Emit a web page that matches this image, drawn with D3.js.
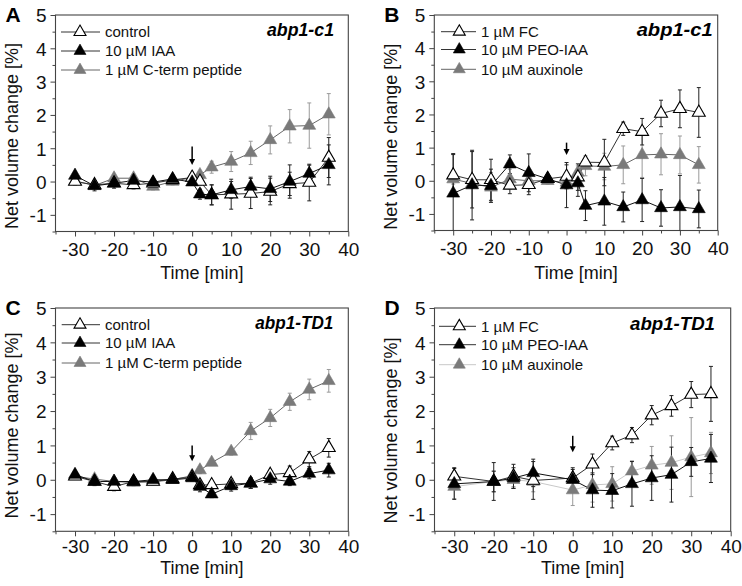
<!DOCTYPE html>
<html><head><meta charset="utf-8">
<script src="https://cdn.jsdelivr.net/npm/d3@7"></script>
<style>
body{margin:0;background:#fff;}
text{font-family:Arial,"Liberation Sans",Helvetica,sans-serif;}
</style></head>
<body>
<svg id="chart" width="742" height="586"></svg>
<script>
// ---------- data ----------
const timesA = [-30,-25,-20,-15,-10,-5,0,2,5,10,15,20,25,30,35];
const A_control     = [0.0,-0.1,-0.05,-0.1,-0.05,0.05,0.12,0.0,-0.4,-0.38,-0.36,-0.3,-0.07,-0.03,0.72];
const A_control_err = [0.1,0.1,0.1,0.12,0.1,0.1,0.1,0.1,0.3,0.45,0.45,0.4,0.35,0.55,0.6];
const A_iaa         = [0.18,-0.13,-0.05,0.03,-0.02,0.08,-0.02,-0.38,-0.4,-0.25,-0.15,-0.22,0.0,0.24,0.5];
const A_iaa_err     = [0.1,0.15,0.15,0.1,0.1,0.1,0.1,0.15,0.3,0.25,0.28,0.38,0.5,0.25,0.6];
const A_pep         = [0.02,-0.12,0.1,0.1,-0.15,0.0,0.12,0.2,0.43,0.6,0.86,1.25,1.66,1.68,2.02];
const A_pep_err     = [0.1,0.1,0.1,0.1,0.1,0.1,0.1,0.1,0.18,0.3,0.35,0.42,0.5,0.68,0.62];

const timesB = [-30,-25,-20,-15,-10,-5,0,3,5,10,15,20,25,30,35];
const B_fc      = [0.17,0.03,0.03,-0.14,-0.12,0.06,0.13,0.11,0.56,0.55,1.57,1.48,2.03,2.17,2.06];
const B_fc_err  = [0.62,0.85,0.62,0.25,0.3,0.1,0.35,0.4,0.1,0.7,0.2,0.4,0.4,0.57,0.75];
const B_peo     = [-0.38,-0.13,-0.15,0.5,0.24,0.06,-0.13,-0.07,-0.75,-0.62,-0.79,-0.58,-0.82,-0.79,-0.85];
const B_peo_err = [1.2,1.05,0.5,0.28,0.57,0.1,0.68,0.4,0.45,0.72,0.45,0.65,0.55,0.95,0.57];
const B_aux     = [0.05,-0.08,-0.2,0.05,0.0,0.0,-0.05,0.25,0.45,0.43,0.48,0.78,0.8,0.78,0.48];
const B_aux_err = [0.15,0.15,0.45,0.3,0.2,0.1,0.2,0.2,0.3,0.4,0.57,0.68,0.62,0.57,0.55];

const timesC = [-30,-25,-20,-15,-10,-5,0,2,5,10,15,20,25,30,35];
const C_control     = [0.1,-0.05,-0.2,-0.05,-0.05,0.02,0.08,-0.15,-0.15,-0.12,-0.1,0.15,0.2,0.6,0.93];
const C_control_err = [0.08,0.1,0.12,0.1,0.08,0.05,0.08,0.1,0.1,0.15,0.15,0.12,0.2,0.22,0.27];
const C_iaa         = [0.15,-0.05,-0.05,-0.05,0.0,0.0,0.05,-0.2,-0.42,-0.18,-0.1,0.02,-0.05,0.18,0.28];
const C_iaa_err     = [0.08,0.12,0.1,0.1,0.08,0.05,0.08,0.15,0.1,0.15,0.15,0.15,0.12,0.15,0.2];
const C_pep         = [0.1,0.02,-0.05,-0.08,-0.06,0.0,0.12,0.28,0.5,0.82,1.42,1.8,2.27,2.63,2.88];
const C_pep_err     = [0.08,0.1,0.08,0.1,0.1,0.08,0.08,0.1,0.08,0.1,0.25,0.25,0.25,0.3,0.33];

const timesD = [-30,-20,-15,-10,0,5,10,15,20,25,30,35];
const D_fc      = [0.1,-0.05,0.1,-0.02,0.05,0.45,1.07,1.3,1.88,2.15,2.48,2.5];
const D_fc_err  = [0.25,0.55,0.35,0.55,0.3,0.3,0.2,0.22,0.28,0.3,0.38,0.8];
const D_peo     = [-0.12,-0.05,0.05,0.2,0.0,-0.3,-0.32,-0.12,0.05,0.15,0.52,0.62];
const D_peo_err = [0.45,0.3,0.3,0.4,0.3,0.5,0.5,0.65,0.65,0.8,0.42,0.7];
const D_aux     = [-0.2,-0.05,0.0,-0.05,-0.3,-0.15,-0.12,0.25,0.42,0.5,0.66,0.78];
const D_aux_err = [0.35,0.3,0.2,0.3,0.45,0.5,0.5,0.3,0.55,0.78,1.15,0.6];

const legendA = ["control","10 µM IAA","1 µM C-term peptide"];
const legendB = ["1 µM FC","10 µM PEO-IAA","10 µM auxinole"];
const panelLetters = ["A","B","C","D"];
const genotypes = ["abp1-c1","abp1-c1","abp1-TD1","abp1-TD1"];
const arrowVals = [[1.05,0.5],[1.15,0.78],[1.0,0.54],[1.28,0.8]];
const xMajor = [-30,-20,-10,0,10,20,30,40];
const xMinor = [-35,-25,-15,-5,5,15,25,35];
const yMajor = [-1,0,1,2,3,4,5];
const yMinor = [-1.5,-0.5,0.5,1.5,2.5,3.5,4.5];
const xTitle = "Time [min]";
const yTitle = "Net volume change [%]";

// ---------- layout ----------
const panels = [
  {l:55.5,r:348.3,t:15,b:231.5,times:timesA,labels:legendA,
   series:[[A_pep,A_pep_err,"gray"],[A_control,A_control_err,"open"],[A_iaa,A_iaa_err,"black"]],
   order:["open","black","gray"], legX0:61,legMarker:80,legText:105,legY:[32,51,70],
   geneR:334,geneY:36,geneW:67, yLabC:136, tickOff:24, titleOff:47, grayLine:"#666"},
  {l:434.3,r:717.7,t:15,b:230.5,times:timesB,labels:legendB,
   series:[[B_aux,B_aux_err,"gray"],[B_fc,B_fc_err,"open"],[B_peo,B_peo_err,"black"]],
   order:["open","black","gray"], legX0:441,legMarker:459.3,legText:481,legY:[31.7,49.5,69.3],
   geneR:712.7,geneY:36,geneW:76, yLabC:136.7, tickOff:24.5, titleOff:48, grayLine:"#666"},
  {l:55.5,r:348.3,t:308,b:531.3,times:timesC,labels:legendA,
   series:[[C_pep,C_pep_err,"gray"],[C_control,C_control_err,"open"],[C_iaa,C_iaa_err,"black"]],
   order:["open","black","gray"], legX0:61.7,legMarker:80,legText:105,legY:[324.7,343,363],
   geneR:333.3,geneY:329,geneW:78, yLabC:425.5, tickOff:22, titleOff:43, grayLine:"#666"},
  {l:434.5,r:730.7,t:308,b:531.3,times:timesD,labels:legendB,
   series:[[D_aux,D_aux_err,"gray"],[D_fc,D_fc_err,"open"],[D_peo,D_peo_err,"black"]],
   order:["open","black","gray"], legX0:439,legMarker:459.3,legText:481,legY:[326.3,344.7,364.7],
   geneR:715,geneY:329.7,geneW:85, yLabC:430.5, tickOff:22, titleOff:43, grayLine:"#c8c8c8"}
];

const svg = d3.select("#chart");
const frameCol = "#444";
const sym = d3.symbol().type(d3.symbolTriangle).size(72);
const symLeg = d3.symbol().type(d3.symbolTriangle).size(62);
const fmt = d => String(d);

function styleMarker(sel, kind){
  if(kind==="open") sel.attr("fill","#fff").attr("stroke","#000").attr("stroke-width",1.1);
  else if(kind==="black") sel.attr("fill","#000").attr("stroke","#000").attr("stroke-width",0.6);
  else sel.attr("fill","#7a7a7a").attr("stroke","#7a7a7a").attr("stroke-width",0.6);
}

panels.forEach((p,i)=>{
  const g = svg.append("g");
  const x = d3.scaleLinear().domain([-35,40]).range([p.l,p.r]);
  const y = d3.scaleLinear().domain([-1.5,5]).range([p.b,p.t]);

  const clipId = "clip"+i;
  svg.append("clipPath").attr("id",clipId).append("rect")
    .attr("x",p.l).attr("y",p.t).attr("width",p.r-p.l).attr("height",p.b-p.t);

  // axes
  const gx = g.append("g").attr("transform",`translate(0,${p.b})`)
    .call(d3.axisBottom(x).tickValues(xMajor).tickSize(5).tickFormat(fmt));
  g.append("g").attr("transform",`translate(0,${p.b})`)
    .call(d3.axisBottom(x).tickValues(xMinor).tickSize(3).tickFormat(""))
    .call(s=>s.select(".domain").remove());
  const gy = g.append("g").attr("transform",`translate(${p.l},0)`)
    .call(d3.axisLeft(y).tickValues(yMajor).tickSize(5).tickFormat(fmt));
  g.append("g").attr("transform",`translate(${p.l},0)`)
    .call(d3.axisLeft(y).tickValues(yMinor).tickSize(3).tickFormat(""))
    .call(s=>s.select(".domain").remove());
  g.selectAll(".domain").remove();
  g.selectAll(".tick line").attr("stroke",frameCol);
  gx.selectAll(".tick text").attr("font-size",19).attr("fill","#111").attr("y",null).attr("dy",null)
    .attr("transform",`translate(0,${p.tickOff})`);
  gy.selectAll(".tick text").attr("font-size",19).attr("fill","#111").attr("x",-9).attr("dy","0.36em");

  // frame
  g.append("rect").attr("x",p.l).attr("y",p.t).attr("width",p.r-p.l).attr("height",p.b-p.t)
    .attr("fill","none").attr("stroke",frameCol).attr("stroke-width",1.1);

  // axis titles
  g.append("text").attr("x",(p.l+p.r)/2).attr("y",p.b+p.titleOff).attr("text-anchor","middle")
    .attr("font-size",18).attr("fill","#111").text(xTitle);
  g.append("text").attr("transform",`translate(${p.l-37.5},${p.yLabC}) rotate(-90)`)
    .attr("text-anchor","middle").attr("font-size",18).attr("fill","#111").text(yTitle);

  // panel letter
  g.append("text").attr("x",p.l-50).attr("y",p.t+7).attr("font-size",21).attr("font-weight","bold")
    .attr("fill","#000").text(panelLetters[i]);

  // genotype
  g.append("text").attr("x",p.geneR).attr("y",p.geneY).attr("text-anchor","end")
    .attr("font-size",18).attr("font-weight","bold").attr("font-style","italic")
    .attr("textLength",p.geneW).attr("lengthAdjust","spacingAndGlyphs").text(genotypes[i]);

  const plot = g.append("g").attr("clip-path",`url(#${clipId})`);

  // error bars
  p.series.forEach(([vals,errs,kind])=>{
    const col = kind==="gray" ? "#9a9a9a" : "#222";
    const eb = plot.append("g").attr("stroke",col).attr("stroke-width",1);
    p.times.forEach((t,j)=>{
      const cx = x(t), y1 = y(vals[j]-errs[j]), y2 = y(vals[j]+errs[j]);
      eb.append("line").attr("x1",cx).attr("x2",cx).attr("y1",y1).attr("y2",y2);
      eb.append("line").attr("x1",cx-2).attr("x2",cx+2).attr("y1",y1).attr("y2",y1);
      eb.append("line").attr("x1",cx-2).attr("x2",cx+2).attr("y1",y2).attr("y2",y2);
    });
  });

  // lines
  const line = d3.line().x(d=>x(d[0])).y(d=>y(d[1]));
  p.series.forEach(([vals,errs,kind])=>{
    const col = kind==="gray" ? p.grayLine : (kind==="open" ? "#333" : "#111");
    plot.append("path").datum(p.times.map((t,j)=>[t,vals[j]]))
      .attr("d",line).attr("fill","none").attr("stroke",col).attr("stroke-width",1);
  });

  // markers
  p.series.forEach(([vals,errs,kind])=>{
    plot.append("g").selectAll("path").data(p.times.map((t,j)=>[t,vals[j]])).join("path")
      .attr("d",sym).attr("transform",d=>`translate(${x(d[0])},${y(d[1])})`)
      .call(styleMarker,kind);
  });

  // arrow
  const ax = x(0), ay1 = y(arrowVals[i][0]), ay2 = y(arrowVals[i][1]);
  g.append("line").attr("x1",ax).attr("x2",ax).attr("y1",ay1).attr("y2",ay2-5)
    .attr("stroke","#000").attr("stroke-width",1.5);
  g.append("path").attr("d",`M${ax-3},${ay2-6} L${ax+3},${ay2-6} L${ax},${ay2} Z`).attr("fill","#000");

  // legend
  p.order.forEach((kind,k)=>{
    const ly = p.legY[k];
    const col = kind==="gray" ? p.grayLine : "#333";
    g.append("line").attr("x1",p.legX0).attr("x2",p.legText-5).attr("y1",ly).attr("y2",ly)
      .attr("stroke",col).attr("stroke-width",1);
    g.append("path").attr("d",symLeg).attr("transform",`translate(${p.legMarker},${ly})`).call(styleMarker,kind);
    g.append("text").attr("x",p.legText).attr("y",ly).attr("dy","0.36em").attr("font-size",15)
      .attr("fill","#111").text(p.labels[k]);
  });
});
</script>
</body></html>
